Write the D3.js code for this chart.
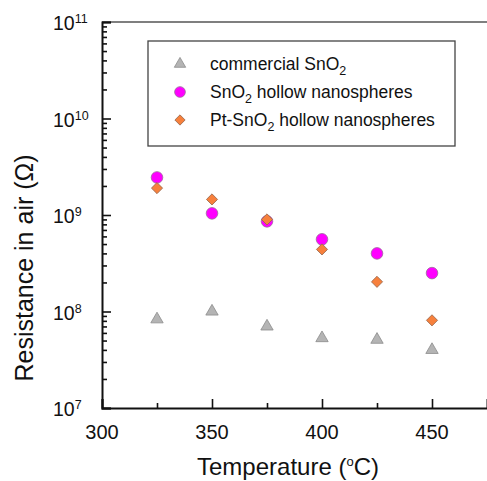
<!DOCTYPE html>
<html>
<head>
<meta charset="utf-8">
<script src="https://cdn.jsdelivr.net/npm/d3@7"></script>
<style>
	body { margin: 0; background: #fff; }
	text { font-family: "Liberation Sans", Arial, sans-serif; fill: #111; }
</style>
</head>
<body>
<svg id="chart" width="487" height="481"></svg>
<script>
// data
// ======
var temps = [325, 350, 375, 400, 425, 450];
var commercial = [8.3e7, 1.0e8, 7.0e7, 5.3e7, 5.1e7, 4.0e7];
var hollow = [2.45e9, 1.04e9, 8.6e8, 5.6e8, 4.0e8, 2.5e8];
var ptHollow = [1.9e9, 1.45e9, 9.0e8, 4.4e8, 2.03e8, 8.1e7];

var xMajorTicks = [300, 350, 400, 450];
var xMinorTicks = [325, 375, 425];
var yExponents = [7, 8, 9, 10, 11];

// series styles
var SERIES = [
	{ name: "commercial", values: commercial, shape: "triangle", fill: "#b4b4b4", stroke: "#8c8c8c" },
	{ name: "hollow", values: hollow, shape: "circle", fill: "#ff00ff", stroke: "#9a6a9a" },
	{ name: "pt", values: ptHollow, shape: "diamond", fill: "#f7803c", stroke: "#9a6a50" }
];

var L = 102, T = 22, R = 487, B = 408;
var svg = d3.select("#chart");

var x = d3.scaleLinear().domain([300, 475]).range([L, R]);
var y = d3.scaleLog().domain([1e7, 1e11]).range([B, T]);

// minor y ticks 2..9 x 10^n
var yMinor = [];
for (var e = 7; e < 11; e++) {
	for (var m = 2; m <= 9; m++) yMinor.push(m * Math.pow(10, e));
}

// top frame line
svg.append("line")
	.attr("x1", L).attr("x2", R).attr("y1", T).attr("y2", T)
	.attr("stroke", "#555").attr("stroke-width", 1.6);

// y axis
var yAxisG = svg.append("g").attr("transform", "translate(" + L + ",0)");
yAxisG.call(d3.axisLeft(y).tickValues(yExponents.map(function(d) { return Math.pow(10, d); }))
	.tickSize(-9).tickFormat(""));
yAxisG.append("g").call(d3.axisLeft(y).tickValues(yMinor).tickSize(-5).tickFormat(""))
	.select(".domain").remove();
yAxisG.selectAll(".domain").attr("stroke", "#111").attr("stroke-width", 2);
yAxisG.selectAll(".tick line").attr("stroke", "#111").attr("stroke-width", 1.6);

// y tick labels with superscripts
yExponents.forEach(function(ex) {
	var t = svg.append("text")
		.attr("x", 53).attr("y", y(Math.pow(10, ex)) + 8)
		.style("font-size", "19.5px");
	t.append("tspan").text("10");
	t.append("tspan").attr("dy", -7).style("font-size", "12.5px").text(ex);
});

// x axis
var xAxisG = svg.append("g").attr("transform", "translate(0," + B + ")");
xAxisG.call(d3.axisBottom(x).tickValues(xMajorTicks).tickSize(-9).tickFormat(""));
xAxisG.append("g").call(d3.axisBottom(x).tickValues(xMinorTicks).tickSize(-5).tickFormat(""))
	.select(".domain").remove();
xAxisG.selectAll(".domain").attr("stroke", "#111").attr("stroke-width", 2);
xAxisG.selectAll(".tick line").attr("stroke", "#111").attr("stroke-width", 1.6);

xMajorTicks.forEach(function(v) {
	svg.append("text")
		.attr("x", x(v)).attr("y", 439)
		.attr("text-anchor", "middle")
		.style("font-size", "20px")
		.text(v);
});

// axis titles
var xt = svg.append("text")
	.attr("x", 197).attr("y", 475)
	.style("font-size", "24px");
xt.append("tspan").text("Temperature (");
xt.append("tspan").attr("dy", -9).style("font-size", "13px").text("o");
xt.append("tspan").attr("dy", 9).text("C)");

svg.append("text")
	.attr("transform", "translate(33,268) rotate(-90)")
	.attr("text-anchor", "middle")
	.style("font-size", "25px")
	.text("Resistance in air (\u03A9)");

// markers
function symbolFor(shape, k) {
	k = k || 1;
	if (shape == "circle") return d3.symbol().type(d3.symbolCircle).size(106 * k)();
	if (shape == "triangle") return d3.symbol().type(d3.symbolTriangle).size(66 * k)();
	return d3.symbol().type(d3.symbolSquare).size(62 * k)();
}

SERIES.forEach(function(s) {
	svg.append("g").selectAll("path")
		.data(s.values)
		.enter().append("path")
		.attr("d", symbolFor(s.shape))
		.attr("transform", function(d, i) {
			return "translate(" + x(temps[i]) + "," + y(d) + ")" + (s.shape == "diamond" ? " rotate(45)" : "");
		})
		.attr("fill", s.fill)
		.attr("stroke", s.stroke)
		.attr("stroke-width", 0.8);
});

// legend
var lg = svg.append("g");
lg.append("rect")
	.attr("x", 148).attr("y", 41).attr("width", 307).attr("height", 105)
	.attr("fill", "#fff").attr("stroke", "#444").attr("stroke-width", 1.3);

var legendRows = [
	{ series: SERIES[0], parts: [["commercial SnO", 0], ["2", 1]] },
	{ series: SERIES[1], parts: [["SnO", 0], ["2", 1], [" hollow nanospheres", 0]] },
	{ series: SERIES[2], parts: [["Pt-SnO", 0], ["2", 1], [" hollow nanospheres", 0]] }
];

legendRows.forEach(function(row, i) {
	var cy = 64 + i * 28;
	var s = row.series;
	lg.append("path")
		.attr("d", symbolFor(s.shape, 0.85))
		.attr("transform", "translate(180," + cy + ")" + (s.shape == "diamond" ? " rotate(45)" : ""))
		.attr("fill", s.fill)
		.attr("stroke", s.stroke)
		.attr("stroke-width", 0.8);
	var t = lg.append("text")
		.attr("x", 210).attr("y", cy + 6)
		.style("font-size", "17.5px");
	var sub = false;
	row.parts.forEach(function(p) {
		var ts = t.append("tspan").text(p[0]);
		if (p[1] && !sub) { ts.attr("dy", 5).style("font-size", "12.5px"); sub = true; }
		else if (!p[1] && sub) { ts.attr("dy", -5); sub = false; }
	});
});
</script>
</body>
</html>
